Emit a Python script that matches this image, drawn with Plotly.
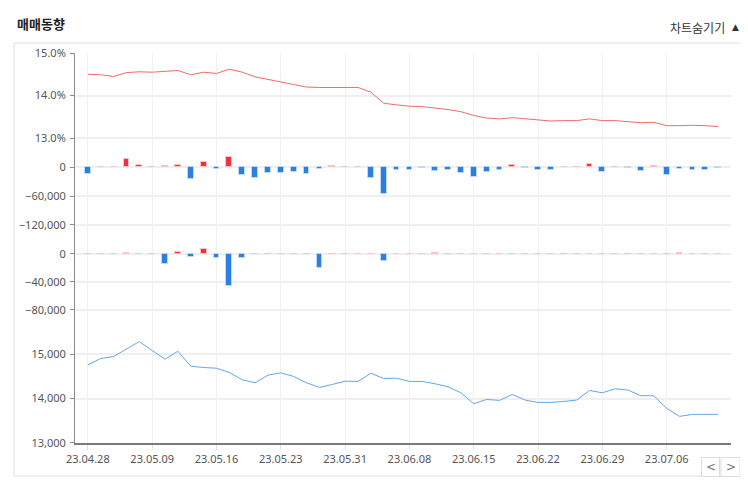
import plotly.graph_objects as go

# ---------------- data ----------------
dates = ["23.04.28", "23.05.02", "23.05.03", "23.05.04", "23.05.08", "23.05.09", "23.05.10", "23.05.11",
         "23.05.12", "23.05.15", "23.05.16", "23.05.17", "23.05.18", "23.05.19", "23.05.22", "23.05.23",
         "23.05.24", "23.05.25", "23.05.26", "23.05.30", "23.05.31", "23.06.01", "23.06.02", "23.06.05",
         "23.06.07", "23.06.08", "23.06.09", "23.06.12", "23.06.13", "23.06.14", "23.06.15", "23.06.16",
         "23.06.19", "23.06.20", "23.06.21", "23.06.22", "23.06.23", "23.06.26", "23.06.27", "23.06.28",
         "23.06.29", "23.06.30", "23.07.03", "23.07.04", "23.07.05", "23.07.06", "23.07.07", "23.07.10",
         "23.07.11", "23.07.12"]

foreign_ratio = [14.50, 14.49, 14.45, 14.54, 14.56, 14.55, 14.57, 14.59, 14.49, 14.55,
                 14.52, 14.62, 14.55, 14.44, 14.38, 14.32, 14.26, 14.20, 14.19, 14.19,
                 14.19, 14.19, 14.08, 13.82, 13.78, 13.75, 13.74, 13.71, 13.67, 13.62,
                 13.53, 13.47, 13.45, 13.48, 13.45, 13.42, 13.40, 13.41, 13.41, 13.45,
                 13.41, 13.41, 13.39, 13.36, 13.37, 13.29, 13.29, 13.30, 13.29, 13.27]

foreign_net = [-14600, 500, 500, 17400, 4900, 0, 2800, 4900, -24400, 11150,
               -3500, 21600, -16700, -22300, -11150, -12500, -9000, -14600, -2800, 3500,
               0, 0, -22300, -55000, -4900, -4900, -1000, -7000, -4900, -11150,
               -19500, -9000, -4900, 4200, -1000, -4900, -4900, 0, 1000, 7700,
               -9000, 0, -1000, -7000, 3000, -16000, -2500, -4900, -4900, -1000]

inst_net = [0, 0, 0, 1000, 0, 500, -15000, 2900, -4300, 7200,
            -5800, -45800, -5800, 0, 500, 0, 0, 0, -20200, 500,
            500, 500, 500, -10600, 500, 500, 0, 1500, 0, 500,
            0, 0, 500, 0, 0, 0, 0, 0, 0, 0,
            0, 0, 0, -500, 0, 500, 1500, 0, 0, 0]

close_price = [14760, 14903, 14948, 15120, 15285, 15082, 14888, 15067, 14730, 14700,
               14685, 14588, 14423, 14356, 14528, 14580, 14498, 14356, 14251, 14318,
               14393, 14386, 14570, 14453, 14461, 14386, 14386, 14333, 14266, 14131,
               13884, 13981, 13959, 14094, 13966, 13914, 13914, 13936, 13966, 14183,
               14131, 14221, 14191, 14064, 14064, 13779, 13599, 13644, 13652, 13644]

x_tick_labels = dates[::5]
ratio_ticks = [13.0, 14.0, 15.0]
ratio_tick_text = ["13.0%", "14.0%", "15.0%"]
foreign_ticks = [-120000, -60000, 0]
inst_ticks = [-80000, -40000, 0]
price_ticks = [13000, 14000, 15000]

# ---------------- styling ----------------
RED_LINE = "#f46a6a"
BLUE_LINE = "#63a6ee"
RED_BAR = "#f2313f"
BLUE_BAR = "#2b7fe3"
RED_EDGE = "#f9c3c7"
BLUE_EDGE = "#bfd8f6"
FONT = "Noto Sans CJK KR"
TICK_FONT = dict(family="Noto Sans", size=11, color="#555555")
GRID = "#efefef"
VGRID = "#eef1f6"

OFF = 8  # page body margin
W, H = 748 - OFF, 486 - OFF
# plot area in window pixels: x 75..731, y 53..443
L, T = 75 - OFF, 53 - OFF
R = W - (731 - OFF)
B = H - (443 - OFF)
PW, PH = W - L - R, H - T - B


def px(x):
    return (x - OFF - L) / PW


def py(y):
    return (H - B - (y - OFF)) / PH


fig = go.Figure()

fig.add_trace(go.Scatter(x=dates, y=foreign_ratio, mode="lines",
                         line=dict(color=RED_LINE, width=1), xaxis="x", yaxis="y"))


def bar_colors(vals):
    return ([RED_BAR if v > 0 else BLUE_BAR for v in vals],
            [RED_EDGE if v > 0 else BLUE_EDGE for v in vals])


fc, fe = bar_colors(foreign_net)
fig.add_trace(go.Bar(x=dates, y=foreign_net, width=0.45,
                     marker=dict(color=fc, line=dict(color=fe, width=1)),
                     xaxis="x2", yaxis="y2"))
ic, ie = bar_colors(inst_net)
fig.add_trace(go.Bar(x=dates, y=inst_net, width=0.45,
                     marker=dict(color=ic, line=dict(color=ie, width=1)),
                     xaxis="x3", yaxis="y3"))
fig.add_trace(go.Scatter(x=dates, y=close_price, mode="lines",
                         line=dict(color=BLUE_LINE, width=1), xaxis="x4", yaxis="y4"))

# domains (window pixel rows converted to paper)
doms = [[py(152), 1.0], [py(236), py(152)], [py(318), py(236)], [0.0, py(318)]]

xcommon = dict(type="category", range=[-1, 50], showgrid=True, gridcolor=VGRID, gridwidth=1,
               tickmode="array", tickvals=x_tick_labels, zeroline=False, fixedrange=True)

ycommon = dict(showline=True, linecolor="#8a8a8a", linewidth=1, ticks="outside", ticklen=4,
               tickcolor="#8a8a8a", showgrid=True, gridcolor=GRID, gridwidth=1.5,
               zeroline=False, tickfont=TICK_FONT, ticklabelstandoff=2)

layout = dict(
    width=W, height=H, margin=dict(l=L, r=R, t=T, b=B, autoexpand=False),
    paper_bgcolor="white", plot_bgcolor="white", showlegend=False, bargap=0,
    font=dict(family=FONT, size=11, color="#555555"),
    xaxis=dict(xcommon, anchor="y", showticklabels=False, ticks=""),
    xaxis2=dict(xcommon, anchor="y2", showticklabels=False, ticks=""),
    xaxis3=dict(xcommon, anchor="y3", showticklabels=False, ticks=""),
    xaxis4=dict(xcommon, anchor="y4", showticklabels=True, ticks="outside", ticklen=5,
                tickcolor="#dde3ec", showline=True, linecolor="#7a7a7a", linewidth=1.5,
                tickfont=TICK_FONT),
    yaxis=dict(ycommon, domain=doms[0], anchor="x", range=[15 - 99 / 42.5, 15.002],
               tickvals=ratio_ticks, ticktext=ratio_tick_text),
    yaxis2=dict(ycommon, domain=doms[1], anchor="x2", range=[-143650, 32000],
                tickvals=foreign_ticks, tickformat=",d"),
    yaxis3=dict(ycommon, domain=doms[2], anchor="x3", range=[-91800, 25800],
                tickvals=inst_ticks, tickformat=",d"),
    yaxis4=dict(ycommon, domain=doms[3], anchor="x4", range=[12999, 15816],
                tickvals=price_ticks, tickformat=",d"),
)
fig.update_layout(**layout)

# outer frame and nav buttons
fig.add_shape(type="rect", xref="paper", yref="paper", x0=px(14), x1=px(741), y0=py(476), y1=py(43),
              line=dict(color="#e0e0e0", width=1), fillcolor="rgba(0,0,0,0)", layer="below")
for x0, x1 in [(701.5, 719.5), (721, 740)]:
    fig.add_shape(type="rect", xref="paper", yref="paper", x0=px(x0), x1=px(x1), y0=py(476.5), y1=py(457.5),
                  line=dict(color="#dcdcdc", width=1), fillcolor="white")
fig.add_annotation(xref="paper", yref="paper", x=px(710.5), y=py(466.5), text="<", showarrow=False,
                   xanchor="center", yanchor="middle",
                   font=dict(family="DejaVu Sans", size=12, color="#777777"))
fig.add_annotation(xref="paper", yref="paper", x=px(730.5), y=py(466.5), text=">", showarrow=False,
                   xanchor="center", yanchor="middle",
                   font=dict(family="DejaVu Sans", size=12, color="#777777"))

# titles
fig.add_annotation(xref="paper", yref="paper", x=px(15), y=py(23), xanchor="left", yanchor="middle",
                   text="<b>매매동향</b>", showarrow=False, font=dict(family=FONT, size=13, color="#222222"))
fig.add_annotation(xref="paper", yref="paper", x=px(727), y=py(27), xanchor="right", yanchor="middle",
                   text="차트숨기기", showarrow=False, font=dict(family=FONT, size=12, color="#333333"))
fig.add_annotation(xref="paper", yref="paper", x=px(741), y=py(27), xanchor="right", yanchor="middle",
                   text="▲", showarrow=False, font=dict(family="DejaVu Sans", size=9, color="#333333"))

fig.write_html("out.html")
